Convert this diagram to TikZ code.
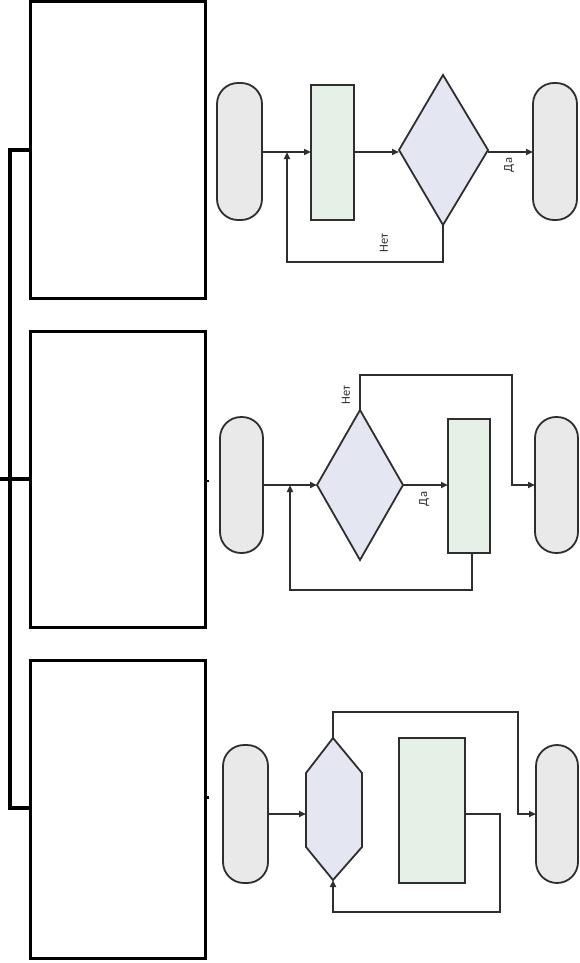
\documentclass[tikz,border=0pt]{standalone}
\usepackage{fontspec}
\setmainfont{Carlito}
\usetikzlibrary{arrows.meta}
\definecolor{termfill}{HTML}{E9E9E9}
\definecolor{procfill}{HTML}{E5F0E6}
\definecolor{decfill}{HTML}{E4E7F1}
\definecolor{edge}{HTML}{2E2E2E}
\tikzset{
  bigbox/.style={draw=black,line width=3pt,fill=white},
  term/.style={draw=edge,line width=1.8pt,fill=termfill,rounded corners=21pt},
  proc/.style={draw=edge,line width=1.8pt,fill=procfill},
  dec/.style={draw=edge,line width=1.8pt,fill=decfill},
  conn/.style={draw=edge,line width=1.8pt},
  arr/.style={conn,-{Triangle[length=7pt,width=6pt]}},
  lbl/.style={font=\fontsize{12.5}{13}\selectfont,text=edge,rotate=90,inner sep=0pt},
  brace/.style={draw=black,line width=4.5pt}
}
\begin{document}
\begin{tikzpicture}[x=1pt,y=-1pt]
\useasboundingbox (0,0) rectangle (580,963);
% big boxes
\draw[bigbox] (30,2) rectangle (205,298);
\draw[bigbox] (30,331) rectangle (205,627);
\draw[bigbox] (30,660) rectangle (205,958);
\coordinate (b1) at (30,150);
\coordinate (b2) at (30,479);
\coordinate (b3) at (30,808);
\coordinate (t1) at (10,150);
\coordinate (t3) at (10,808);
\coordinate (m0) at (0,479);
% bracket
\draw[brace,line cap=rect] (b1) -- (t1) -- (t3) -- (b3);
\draw[brace] (m0) -- (b2);
% small ticks
\draw[black,line width=2pt] (205,481) -- (209,481);
\draw[black,line width=3pt] (205,797) -- (209,797) (205,797) -- (205,808);

% ===== flowchart 1 =====
\path[term] (217,83) rectangle (262,220);
\coordinate (s1) at (262,152);
\path[proc] (311,85) rectangle (354,220);
\coordinate (p1l) at (311,152);
\coordinate (p1r) at (354,152);
\path[dec] (443,75) -- (488,150) -- (443,225) -- (399,150) -- cycle;
\coordinate (d1l) at (399,152);
\coordinate (d1r) at (488,152);
\coordinate (d1b) at (443,225);
\path[term] (533,83) rectangle (577,220);
\coordinate (e1) at (533,152);
\coordinate (j1) at (287,152);
\coordinate (l1a) at (443,262);
\coordinate (l1b) at (287,262);
\draw[arr] (s1) -- (p1l);
\draw[arr] (p1r) -- (d1l);
\draw[arr] (d1r) -- (e1);
\node[lbl] (y1) at (509,165) {Да};
\draw[arr] (d1b) -- (l1a) -- (l1b) -- (j1);
\node[lbl] (n1) at (384,243) {Нет};

% ===== flowchart 2 =====
\path[term] (220,417) rectangle (263,553);
\coordinate (s2) at (263,485);
\path[dec] (360,410) -- (403,485) -- (360,560) -- (317,485) -- cycle;
\coordinate (d2l) at (317,485);
\coordinate (d2r) at (403,485);
\coordinate (d2t) at (360,410);
\path[proc] (448,419) rectangle (490,553);
\coordinate (p2l) at (448,485);
\coordinate (p2b) at (472,553);
\path[term] (535,417) rectangle (578,553);
\coordinate (e2) at (535,485);
\coordinate (n2a) at (360,375);
\coordinate (n2b) at (512,375);
\coordinate (n2c) at (512,485);
\coordinate (l2a) at (472,590);
\coordinate (l2b) at (290,590);
\coordinate (j2) at (290,485);
\draw[arr] (s2) -- (d2l);
\draw[arr] (d2r) -- (p2l);
\node[lbl] (y2) at (424,499) {Да};
\draw[arr] (d2t) -- (n2a) -- (n2b) -- (n2c) -- (e2);
\node[lbl] (n2) at (346,395) {Нет};
\draw[arr] (p2b) -- (l2a) -- (l2b) -- (j2);

% ===== flowchart 3 =====
\path[term] (223,745) rectangle (268,883);
\coordinate (s3) at (268,814);
\path[dec] (333,738) -- (362,773) -- (362,847) -- (333,880) -- (306,847) -- (306,773) -- cycle;
\coordinate (h3l) at (306,814);
\coordinate (h3t) at (333,738);
\coordinate (h3b) at (333,880);
\path[proc] (399,738) rectangle (465,883);
\coordinate (p3r) at (465,814);
\path[term] (536,745) rectangle (578,883);
\coordinate (e3) at (536,814);
\coordinate (n3a) at (333,712);
\coordinate (n3b) at (518,712);
\coordinate (n3c) at (518,814);
\coordinate (l3a) at (500,814);
\coordinate (l3b) at (500,912);
\coordinate (l3c) at (333,912);
\draw[arr] (s3) -- (h3l);
\draw[arr] (h3t) -- (n3a) -- (n3b) -- (n3c) -- (e3);
\draw[arr] (p3r) -- (l3a) -- (l3b) -- (l3c) -- (h3b);
\end{tikzpicture}
\end{document}
